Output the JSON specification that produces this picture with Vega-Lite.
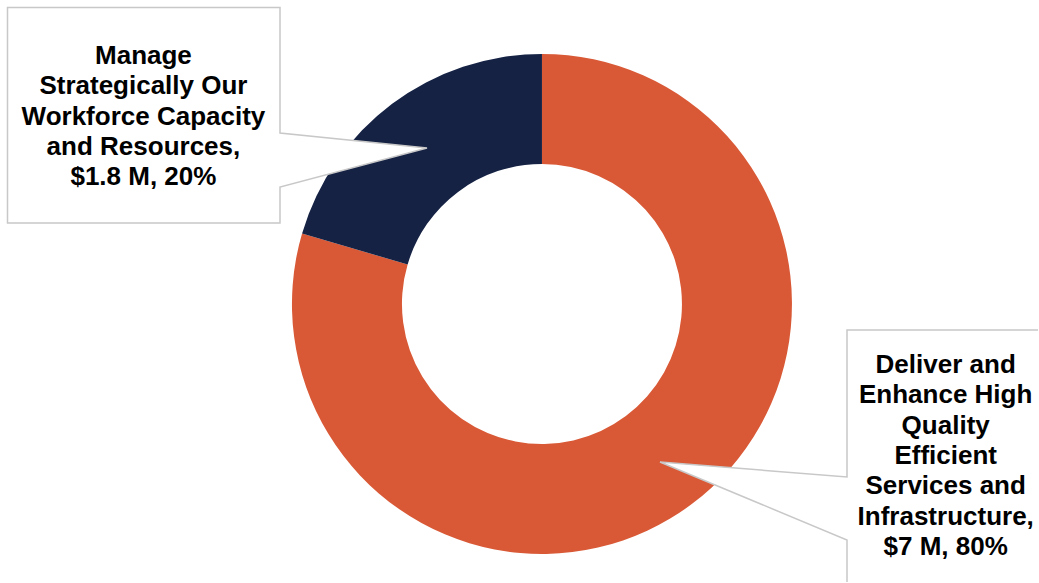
{
  "$schema": "https://vega.github.io/schema/vega-lite/v6.json",
  "width": 1039,
  "height": 583,
  "autosize": {"type": "fit", "contains": "padding"},
  "padding": 0,
  "background": "white",
  "config": {"view": {"stroke": null}},
  "data": {
    "values": [
      {"goal": "Deliver and Enhance High Quality Efficient Services and Infrastructure", "amount": 7, "share": "80%", "label": "Deliver and\nEnhance High\nQuality\nEfficient\nServices and\nInfrastructure,\n$7 M, 80%"},
      {"goal": "Manage Strategically Our Workforce Capacity and Resources", "amount": 1.8, "share": "20%", "label": "Manage\nStrategically Our\nWorkforce Capacity\nand Resources,\n$1.8 M, 20%"}
    ]
  },
  "layer": [
    {
      "mark": {"type": "arc", "outerRadius": 250, "innerRadius": 140},
      "encoding": {
        "theta": {"field": "amount", "type": "quantitative", "stack": true},
        "order": {"field": "amount", "type": "quantitative", "sort": "descending"},
        "color": {
          "field": "goal",
          "type": "nominal",
          "scale": {
            "domain": ["Deliver and Enhance High Quality Efficient Services and Infrastructure", "Manage Strategically Our Workforce Capacity and Resources"],
            "range": ["#D95936", "#152244"]
          },
          "legend": null
        },
        "x": {"datum": 543, "type": "quantitative", "scale": {"domain": [0, 1039], "nice": false, "zero": false}, "axis": null},
        "y": {"datum": 305, "type": "quantitative", "scale": {"domain": [0, 583], "nice": false, "zero": false, "reverse": true}, "axis": null}
      }
    },
    {
      "data": {"values": [{}]},
      "mark": {"type": "point", "shape": "M7.5,7.5 H280 V133 L427,148 L280,187 V223 H7.5 Z", "size": 4, "filled": true, "fill": "white", "stroke": "#c8c8c8", "strokeWidth": 1.5, "opacity": 1},
      "encoding": {
        "x": {"datum": 0, "type": "quantitative", "scale": {"domain": [0, 1039], "nice": false, "zero": false}, "axis": null},
        "y": {"datum": 0, "type": "quantitative", "scale": {"domain": [0, 583], "nice": false, "zero": false, "reverse": true}, "axis": null}
      }
    },
    {
      "data": {"values": [{}]},
      "mark": {"type": "point", "shape": "M1038,330 H847 V477 L660,462 L847,540 V582", "size": 4, "filled": true, "fill": "white", "stroke": "#c8c8c8", "strokeWidth": 1.5, "opacity": 1},
      "encoding": {
        "x": {"datum": 0, "type": "quantitative", "scale": {"domain": [0, 1039], "nice": false, "zero": false}, "axis": null},
        "y": {"datum": 0, "type": "quantitative", "scale": {"domain": [0, 583], "nice": false, "zero": false, "reverse": true}, "axis": null}
      }
    },
    {
      "transform": [{"filter": "datum.share == '20%'"}],
      "mark": {"type": "text", "align": "center", "baseline": "alphabetic", "lineBreak": "\n", "font": "Liberation Sans", "fontWeight": "bold", "fontSize": 26, "lineHeight": 30.4, "color": "#000000"},
      "encoding": {
        "text": {"field": "label", "type": "nominal"},
        "x": {"datum": 143.7, "type": "quantitative", "scale": {"domain": [0, 1039], "nice": false, "zero": false}, "axis": null},
        "y": {"datum": 64, "type": "quantitative", "scale": {"domain": [0, 583], "nice": false, "zero": false, "reverse": true}, "axis": null}
      }
    },
    {
      "transform": [{"filter": "datum.share == '80%'"}],
      "mark": {"type": "text", "align": "center", "baseline": "alphabetic", "lineBreak": "\n", "font": "Liberation Sans", "fontWeight": "bold", "fontSize": 26, "lineHeight": 30.4, "color": "#000000"},
      "encoding": {
        "text": {"field": "label", "type": "nominal"},
        "x": {"datum": 947.5, "type": "quantitative", "scale": {"domain": [0, 1039], "nice": false, "zero": false}, "axis": null},
        "y": {"datum": 374, "type": "quantitative", "scale": {"domain": [0, 583], "nice": false, "zero": false, "reverse": true}, "axis": null}
      }
    }
  ]
}
